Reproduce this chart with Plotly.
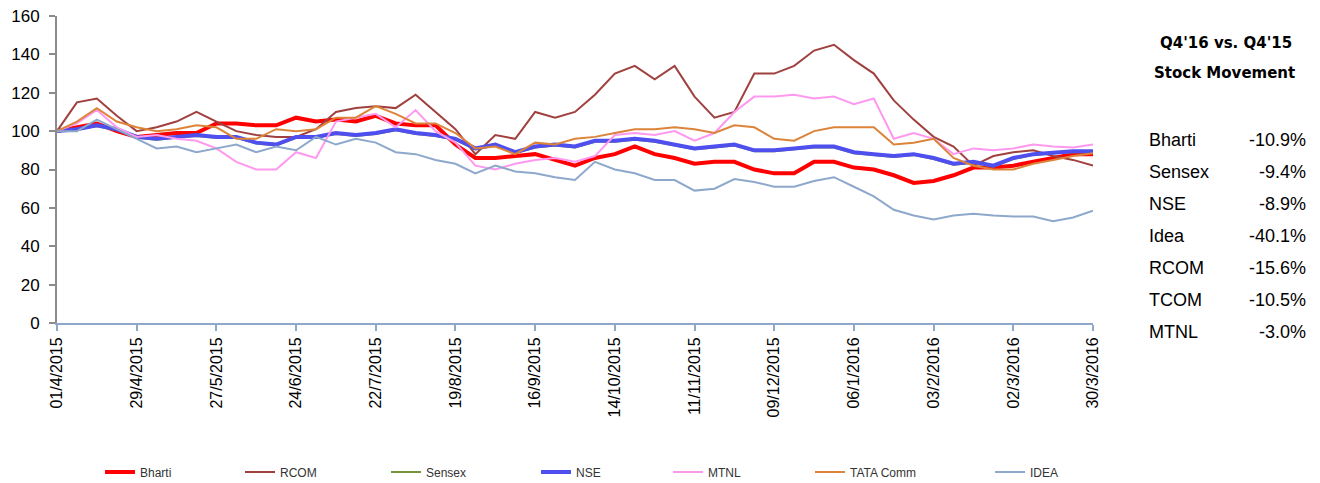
import pandas as pd
import plotly.graph_objects as go

# weekly closes, rebased to 100 on 01/4/2015
dates = pd.date_range('2015-04-01', '2016-03-30', freq='7D')

bharti = [100, 102, 104, 100, 97, 98, 99, 99, 104, 104, 103, 103, 107, 105, 106, 105,
          108, 104, 103, 103, 93, 86, 86, 87, 88, 85, 82, 86, 88, 92, 88, 86,
          83, 84, 84, 80, 78, 78, 84, 84, 81, 80, 77, 73, 74, 77, 81, 81,
          82, 84, 86, 88, 88]
rcom = [100, 115, 117, 108, 100, 102, 105, 110, 105, 100, 98, 97, 97, 101, 110, 112,
        113, 112, 119, 110, 101, 88, 98, 96, 110, 107, 110, 119, 130, 134, 127, 134,
        118, 107, 110, 130, 130, 134, 142, 145, 137, 130, 116, 106, 97, 92, 82, 87,
        89, 90, 87, 85, 82]
sensex = [100, 101, 102.5, 100.5, 96.5, 95.5, 96.5, 97.5, 96.5, 96.5, 93.5, 92.5, 96.5, 96.5, 98.5, 97.5,
          98.5, 100.5, 98.5, 97.5, 95.5, 90.5, 92.5, 88.5, 91.5, 92.5, 91.5, 94.5, 94.5, 95.5, 94.5, 92.5,
          90.5, 91.5, 92.5, 89.5, 89.5, 90.5, 91.5, 91.5, 88.5, 87.5, 86.5, 87.5, 85.5, 82.5, 83.5, 81.5,
          85.5, 87.5, 88.5, 89, 89]
nse = [100, 101, 103, 101, 97, 96, 97, 98, 97, 97, 94, 93, 97, 97, 99, 98,
       99, 101, 99, 98, 96, 91, 93, 89, 92, 93, 92, 95, 95, 96, 95, 93,
       91, 92, 93, 90, 90, 91, 92, 92, 89, 88, 87, 88, 86, 83, 84, 82,
       86, 88, 89, 89.5, 89.5]
mtnl = [100, 104, 111, 102, 97, 98, 96, 95, 91, 84, 80, 80, 89, 86, 105, 107,
        109, 102, 111, 100, 94, 82, 80, 83, 85, 86, 84, 87, 98, 99, 98, 100,
        95, 99, 110, 118, 118, 119, 117, 118, 114, 117, 96, 99, 96, 88, 91, 90,
        91, 93, 92, 91.5, 93]
tata = [100, 105, 112, 105, 102, 100, 101, 103, 102, 96, 96, 101, 100, 101, 107, 107,
        113, 109, 104, 104, 99, 91, 92, 88, 94, 93, 96, 97, 99, 101, 101, 102,
        101, 99, 103, 102, 96, 95, 100, 102, 102, 102, 93, 94, 96, 86, 82, 80,
        80, 83, 85, 87, 88.5]
idea = [100, 100, 106, 101, 96, 91, 92, 89, 91, 93, 89, 92, 90, 97, 93, 96,
        94, 89, 88, 85, 83, 78, 82, 79, 78, 76, 74.5, 84, 80, 78, 74.5, 74.5,
        69, 70, 75, 73.5, 71, 71, 74, 76, 71, 66, 59, 56, 54, 56, 57, 56,
        55.5, 55.5, 53, 55, 58.5]

series_names = ['Bharti', 'RCOM', 'Sensex', 'NSE', 'MTNL', 'TATA Comm', 'IDEA']
series_values = [bharti, rcom, sensex, nse, mtnl, tata, idea]
series_colors = ['#FF0000', '#A0403F', '#77933C', '#4F4FEF', '#FF99F0', '#DC843A', '#8EA8CC']
series_widths = [4, 2, 2, 4, 2, 2, 2]

tick_dates = ['2015-04-01', '2015-04-29', '2015-05-27', '2015-06-24', '2015-07-22',
              '2015-08-19', '2015-09-16', '2015-10-14', '2015-11-11', '2015-12-09',
              '2016-01-06', '2016-02-03', '2016-03-02', '2016-03-30']
tick_labels = ['01/4/2015', '29/4/2015', '27/5/2015', '24/6/2015', '22/7/2015',
               '19/8/2015', '16/9/2015', '14/10/2015', '11/11/2015', '09/12/2015',
               '06/1/2016', '03/2/2016', '02/3/2016', '30/3/2016']

movement_names = ['Bharti', 'Sensex', 'NSE', 'Idea', 'RCOM', 'TCOM', 'MTNL']
movement_values = ['-10.9%', '-9.4%', '-8.9%', '-40.1%', '-15.6%', '-10.5%', '-3.0%']

FONT = 'Arial, Liberation Sans, sans-serif'
HEAD_FONT = 'DejaVu Sans, sans-serif'
W, H = 1320, 483
L, R, T, B = 57, 227, 16, 160
plot_w = W - L - R
plot_h = H - T - B

# left edge (px) of each legend entry, spread like the original legend row
legend_px = [100, 240, 386, 536, 668, 810, 990]


def px_x(x):
    return (x - L) / plot_w


def px_y(y):
    return (H - B - y) / plot_h


fig = go.Figure()
legend_layout = {}
for i, (name, vals, color, width) in enumerate(zip(series_names, series_values, series_colors, series_widths)):
    key = 'legend' if i == 0 else f'legend{i + 1}'
    fig.add_trace(go.Scatter(
        x=dates, y=vals, mode='lines', name=name, legend=key,
        line=dict(color=color, width=width)
    ))
    legend_layout[key] = dict(
        orientation='h', xref='container', yref='container',
        x=legend_px[i] / W, y=1 - 472 / H, xanchor='left', yanchor='middle',
        font=dict(family=FONT, size=12, color='#333333'),
        bgcolor='rgba(0,0,0,0)'
    )

fig.update_xaxes(
    range=[tick_dates[0], tick_dates[-1]], automargin=False,
    tickmode='array', tickvals=tick_dates, ticktext=tick_labels,
    tickangle=-90, tickfont=dict(family=FONT, size=16, color='#000000'),
    showline=True, linecolor='#8EA8CC', linewidth=2,
    ticks='outside', ticklen=6, tickcolor='#8EA8CC', tickwidth=2,
    showgrid=False, zeroline=False
)
fig.update_yaxes(
    range=[0, 160], dtick=20, automargin=False,
    tickfont=dict(family=FONT, size=17, color='#000000'),
    showline=True, linecolor='#8C8C8C', linewidth=2,
    ticks='outside', ticklen=6, tickcolor='#8C8C8C', tickwidth=2,
    ticklabelstandoff=6,
    showgrid=False, zeroline=False
)

annotations = [
    dict(text="<b>Q4'16 vs. Q4'15</b>", x=px_x(1226), y=px_y(43)),
    dict(text='<b>Stock Movement</b>', x=px_x(1224), y=px_y(73)),
]
for a in annotations:
    a.update(xref='paper', yref='paper', showarrow=False, xanchor='center', yanchor='middle',
             font=dict(family=HEAD_FONT, size=15, color='#000000'))
for i, (n, v) in enumerate(zip(movement_names, movement_values)):
    row_y = px_y(140 + 32 * i)
    annotations.append(dict(text=n, x=px_x(1147), y=row_y, xref='paper', yref='paper',
                            showarrow=False, xanchor='left', yanchor='middle',
                            font=dict(family=FONT, size=18, color='#000000')))
    annotations.append(dict(text=v, x=px_x(1308), y=row_y, xref='paper', yref='paper',
                            showarrow=False, xanchor='right', yanchor='middle',
                            font=dict(family=FONT, size=18, color='#000000')))

fig.update_layout(
    width=W, height=H,
    margin=dict(l=L, r=R, t=T, b=B, autoexpand=False),
    paper_bgcolor='white', plot_bgcolor='white',
    font=dict(family=FONT),
    annotations=annotations,
    showlegend=True,
    **legend_layout
)

# drop the page's default body margin so the figure sits at the window corner
fig.write_html('out.html', config={'displayModeBar': False},
               post_script="document.body.style.margin='0';")
